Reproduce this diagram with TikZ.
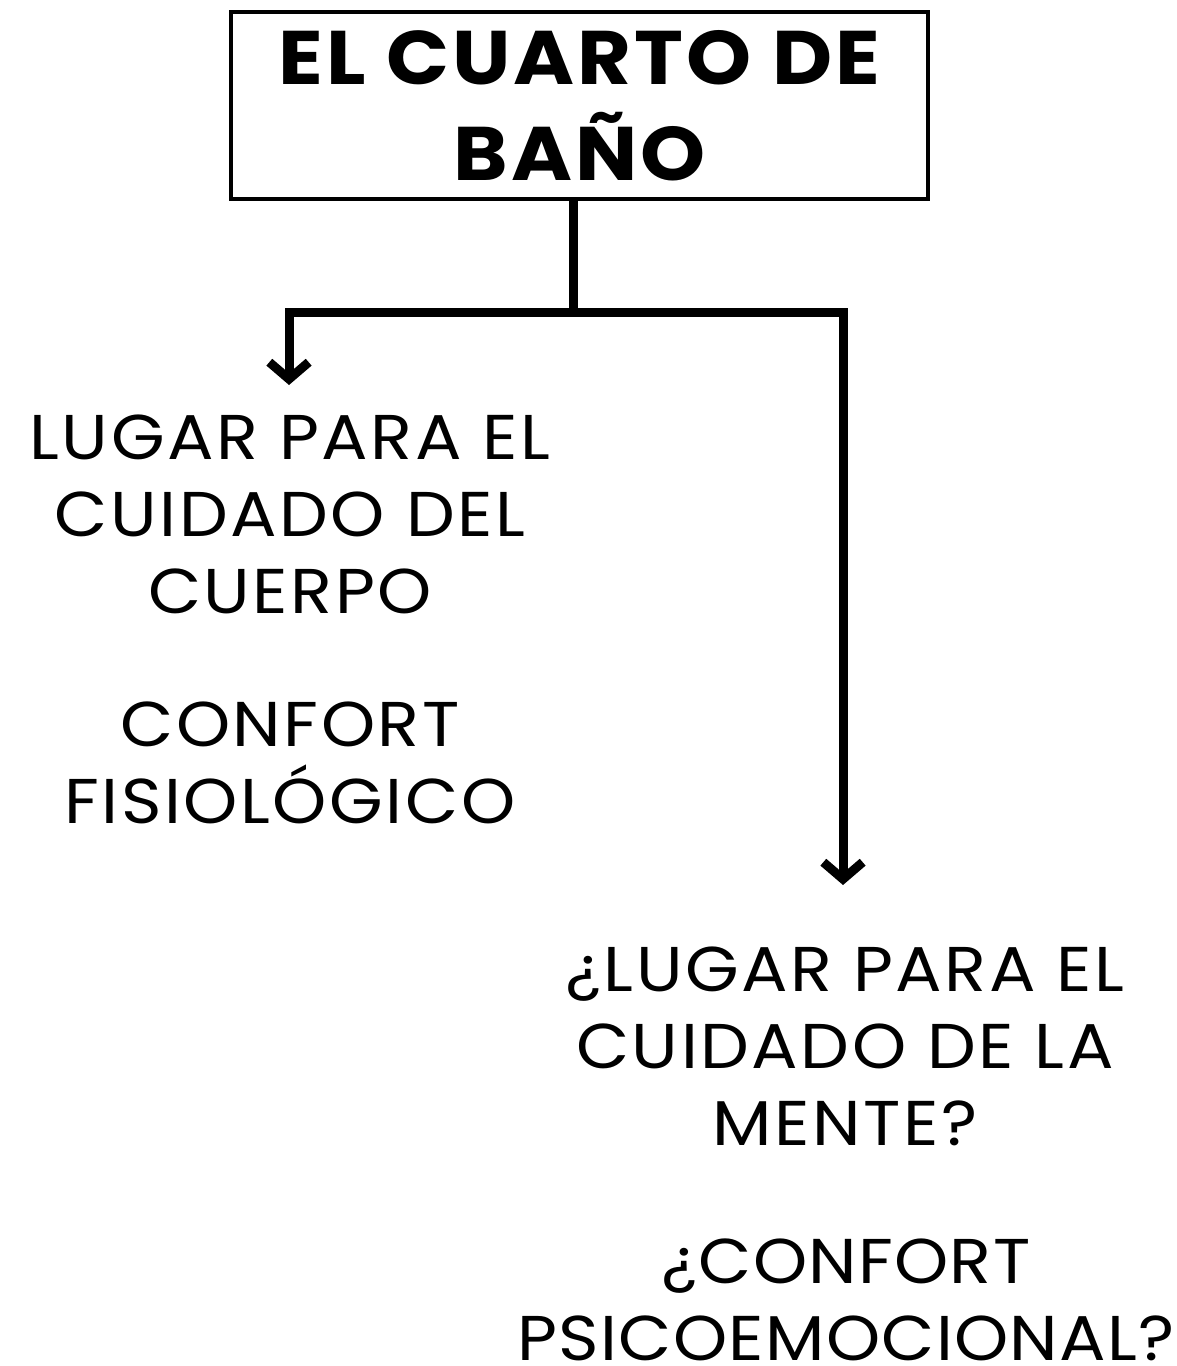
\documentclass[tikz,border=0pt]{standalone}
\usepackage{fontspec}
\setmainfont{Poppins}[FakeStretch=1.09, LetterSpace=4]
\usetikzlibrary{arrows.meta}
\tikzset{
  titlebox/.style={draw, line width=2.8pt, minimum width=697*0.025cm, minimum height=187*0.025cm,
    align=center, font=\fontsize{54}{68}\selectfont\bfseries, inner sep=0pt},
  bodytext/.style={align=center, font=\fontsize{45}{54.6}\selectfont, inner sep=0pt, anchor=base},
  tighttext/.style={bodytext, font=\fontsize{45}{54.6}\selectfont\addfontfeature{LetterSpace=2}},
  conn/.style={line width=6.4pt, line join=miter},
  tip/.style={-{Straight Barb[length=12pt, width=28pt]}}
}
\begin{document}
\begin{tikzpicture}[x=0.025cm, y=-0.025cm]
  \useasboundingbox (0,0) rectangle (1176,1366);
  % title
  \node[titlebox] (bano) at (579.5,105.5) {EL CUARTO DE\\BAÑO};
  % branch point and arrow ends
  \coordinate (split) at (573,312);
  \coordinate (tipL) at (289,385);
  \coordinate (tipR) at (843,885);
  \draw[conn] (bano.south -| split) -- (split);
  \draw[conn,tip] (split) -| (tipL);
  \draw[conn,tip] (split) -| (tipR);
  % left branch (base = last line)
  \node[bodytext] (cuerpo) at (290,613) {LUGAR PARA EL\\CUIDADO DEL\\CUERPO};
  \node[bodytext] (fisio) at (290,823) {CONFORT\\FISIOLÓGICO};
  % right branch
  \node[bodytext] (mente) at (845,1145) {¿LUGAR PARA EL\\CUIDADO DE LA\\MENTE?};
  \node[tighttext] (psico) at (846,1360) {¿CONFORT\\PSICOEMOCIONAL?};
\end{tikzpicture}
\end{document}
